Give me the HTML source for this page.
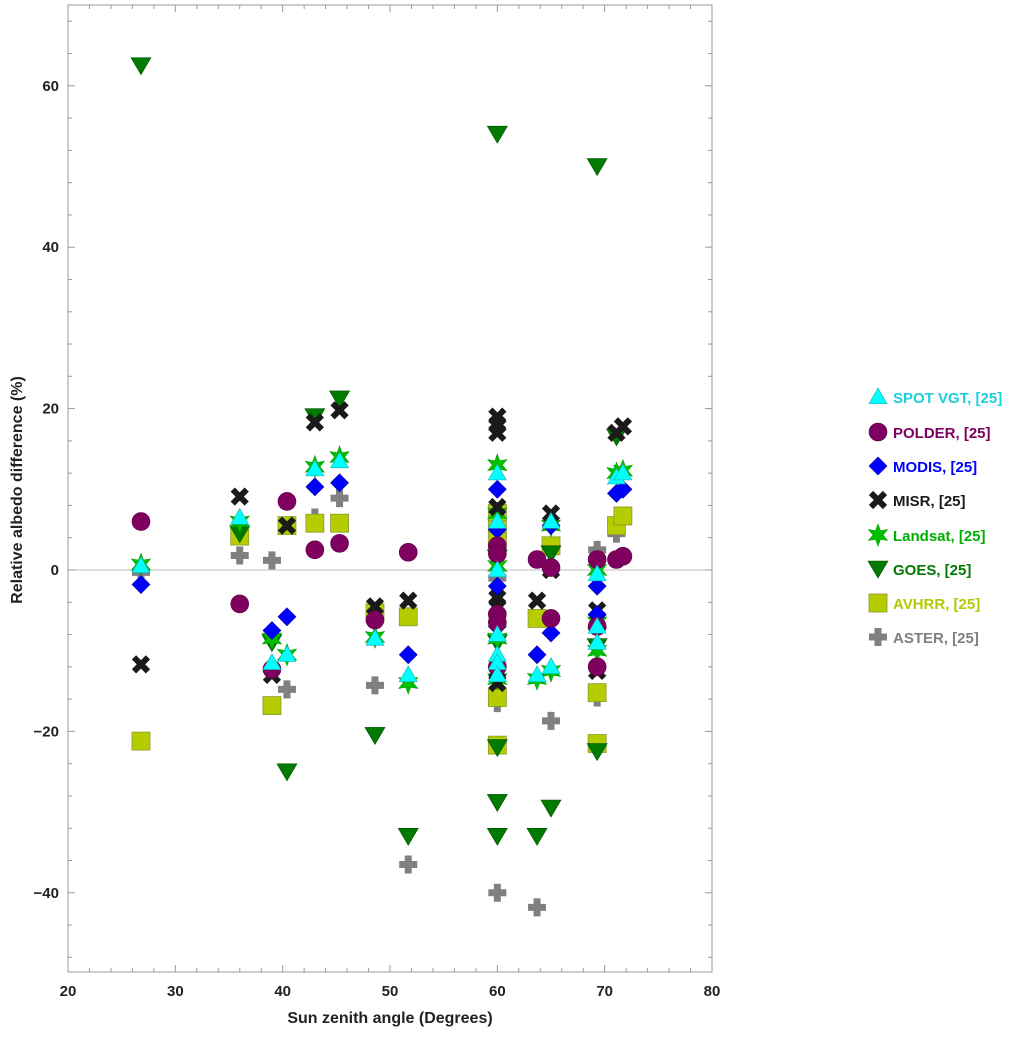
<!DOCTYPE html>
<html><head><meta charset="utf-8"><style>
body{margin:0;background:#fff;font-family:"Liberation Sans",sans-serif}
svg text{font-family:"Liberation Sans",sans-serif;font-weight:bold}
</style></head><body>
<svg id="c" width="1024" height="1032"></svg>
<script>
const xTicks=[20,30,40,50,60,70,80];
const yTicks=[-40,-20,0,20,40,60];
const seriesNames=["SPOT VGT, [25]","POLDER, [25]","MODIS, [25]","MISR, [25]","Landsat, [25]","GOES, [25]","AVHRR, [25]","ASTER, [25]"];
const spot=[[26.8,0.5],[36,6.5],[39,-11.5],[40.4,-10.5],[43,12.5],[45.3,13.5],[48.6,-8.5],[51.7,-13],[60,12],[60,6],[60,0],[60,-8],[60,-10.5],[60,-11.5],[60,-13],[63.7,-13],[65,-12],[65,6],[69.3,-0.5],[69.3,-7],[69.3,-9],[71.1,11.5],[71.7,12]];
const polder=[[26.8,6],[36,-4.2],[39,-12.3],[40.4,8.5],[43,2.5],[45.3,3.3],[48.6,-6.2],[51.7,2.2],[60,3],[60,2],[60,-5.5],[60,-6.5],[60,-12],[63.7,1.3],[65,0.3],[65,-6],[69.3,1.3],[69.3,-7],[69.3,-12],[71.1,1.3],[71.7,1.7]];
const modis=[[26.8,-1.8],[39,-7.5],[40.4,-5.8],[43,10.3],[45.3,10.8],[51.7,-10.5],[60,10],[60,5],[60,-2],[60,-7],[60,-12],[63.7,-10.5],[65,5.5],[65,-7.8],[69.3,-2],[69.3,-5.5],[71.1,9.5],[71.7,10]];
const misr=[[26.8,-11.7],[36,9.1],[39,-13],[40.4,5.5],[43,18.3],[45.3,19.8],[48.6,-4.5],[51.7,-3.8],[60,19],[60,18],[60,17],[60,7.8],[60,-3.5],[60,-4.5],[60,-12.5],[60,-14],[63.7,-3.8],[65,7],[65,0],[69.3,-5],[69.3,-12.5],[71.1,17],[71.7,17.8]];
const landsat=[[26.8,0.7],[36,6],[39,-8.5],[40.4,-10.5],[43,12.8],[45.3,14],[48.6,-8.3],[51.7,-14],[60,13],[60,7],[60,0.5],[60,-8.5],[60,-13.5],[63.7,-13.5],[65,-12.5],[65,5.5],[69.3,0],[69.3,-6.5],[69.3,-10],[71.1,12],[71.7,12.3]];
const goes=[[26.8,62.5],[36,4.5],[39,-9],[40.4,-25],[43,19],[45.3,21.2],[48.6,-20.5],[51.7,-33],[60,54],[60,-22],[60,-28.8],[60,-33],[60,-9],[60,1.5],[63.7,-33],[65,-29.5],[65,2],[69.3,50],[69.3,-22.5],[69.3,-9.5],[71.1,16.5]];
const avhrr=[[26.8,-21.2],[36,4.2],[39,-16.8],[40.4,5.5],[43,5.8],[45.3,5.8],[48.6,-5.3],[51.7,-5.8],[60,7],[60,5],[60,3.5],[60,-15.8],[60,-21.7],[63.7,-6],[65,3],[69.3,-15.2],[69.3,-21.5],[71.1,5.5],[71.7,6.7]];
const aster=[[26.8,-0.3],[36,1.8],[39,1.2],[40.4,-14.8],[43,6.5],[45.3,8.9],[48.6,-14.3],[51.7,-36.5],[60,-40],[60,-16.5],[60,-1],[63.7,-41.8],[65,-18.7],[65,2.8],[69.3,2.5],[69.3,-15.8],[71.1,4.5]];

const L=68,R=712,T=5,B=972;
const X=v=>L+(v-20)*(R-L)/60;
const Y=v=>570-v*8.07;
const NS="http://www.w3.org/2000/svg";
const svg=document.getElementById('c');
function mk(tag,attrs,parent){const e=document.createElementNS(NS,tag);for(const k in attrs)e.setAttribute(k,attrs[k]);(parent||svg).appendChild(e);return e;}
const frame=mk('rect',{x:L,y:T,width:R-L,height:B-T,fill:'none',stroke:'#999','stroke-width':1});


const zl=mk('line',{x1:L,x2:R,y1:Y(0),y2:Y(0),stroke:'#bbb'});


for(let v=20;v<=80;v+=2){const maj=v%10===0;const len=maj?7:4;
 mk('line',{x1:X(v),x2:X(v),y1:B,y2:B-len,stroke:'#999'});
 mk('line',{x1:X(v),x2:X(v),y1:T,y2:T+len,stroke:'#999'});}
for(let v=-48;v<=68;v+=4){const maj=v%20===0;const len=maj?7:4;
 mk('line',{x1:L,x2:L+len,y1:Y(v),y2:Y(v),stroke:'#999'});
 mk('line',{x1:R,x2:R-len,y1:Y(v),y2:Y(v),stroke:'#999'});}
xTicks.forEach(v=>{const t=mk('text',{x:X(v),y:B+24,'text-anchor':'middle','font-size':15,fill:'#222'});t.textContent=v;
 
 });
yTicks.forEach(v=>{const t=mk('text',{x:L-9,y:Y(v)+5,'text-anchor':'end','font-size':15,fill:'#222'});t.textContent=v<0?'\u2212'+(-v):v;
 
 });
const xt=mk('text',{x:390,y:1023,'text-anchor':'middle','font-size':16,fill:'#222'});xt.textContent='Sun zenith angle (Degrees)';


const yt=mk('text',{x:0,y:0,'text-anchor':'middle','font-size':16,fill:'#222',transform:'translate(22,490) rotate(-90)'});yt.textContent='Relative albedo difference (%)';



function marker(kind,cx,cy,g){const s=9;let e;
 if(kind==='tri')e=mk('polygon',{points:`${cx},${cy-s} ${cx-s},${cy+s*0.75} ${cx+s},${cy+s*0.75}`,fill:'#00ffff',stroke:'#2aa','stroke-width':0.6},g);
 else if(kind==='circ')e=mk('circle',{cx,cy,r:9,fill:'#800060',stroke:'#600048','stroke-width':0.6},g);
 else if(kind==='dia')e=mk('polygon',{points:`${cx},${cy-9} ${cx+9},${cy} ${cx},${cy+9} ${cx-9},${cy}`,fill:'#0000ff',stroke:'#0000aa','stroke-width':0.6},g);
 else if(kind==='x'){e=mk('path',{d:`M${cx-7},${cy-7}L${cx+7},${cy+7}M${cx+7},${cy-7}L${cx-7},${cy+7}`,stroke:'#1a1a1a','stroke-width':6},g);}
 else if(kind==='star'){let p=[];for(let i=0;i<12;i++){const a=-Math.PI/2+i*Math.PI/6;const r=i%2?5:11;p.push((cx+r*Math.cos(a)).toFixed(1)+','+(cy+r*Math.sin(a)).toFixed(1));}
  e=mk('polygon',{points:p.join(' '),fill:'#00c000',stroke:'#00a000','stroke-width':0.6},g);}
 else if(kind==='down')e=mk('polygon',{points:`${cx-10},${cy-8} ${cx+10},${cy-8} ${cx},${cy+9}`,fill:'#007a00',stroke:'#005000','stroke-width':0.6},g);
 else if(kind==='sq')e=mk('rect',{x:cx-9,y:cy-9,width:18,height:18,fill:'#b4cc00',stroke:'#8a9a30','stroke-width':0.8},g);
 else if(kind==='plus')e=mk('path',{d:`M${cx-9},${cy}H${cx+9}M${cx},${cy-9}V${cy+9}`,stroke:'#808080','stroke-width':7},g);
 return e;}
const defs=[[aster,'plus','aster'],[avhrr,'sq','avhrr'],[goes,'down','goes'],[landsat,'star','landsat'],[misr,'x','misr'],[modis,'dia','modis'],[polder,'circ','polder'],[spot,'tri','spot-vgt']];
defs.forEach(([data,kind,name])=>{const g=mk('g',{});
 
 
 data.forEach(([x,y])=>{const m=marker(kind,X(x),Y(y),g);
  
  });});
const kinds=['tri','circ','dia','x','star','down','sq','plus'];
const tcols=['#1ccfdc','#800060','#0000ff','#1a1a1a','#00b000','#007a00','#b4c800','#808080'];
const ly=[397,432,466,500,535,569,603,637];
seriesNames.forEach((n,i)=>{const g=mk('g',{});
 
 
 marker(kinds[i],878,ly[i],g);
 const t=mk('text',{x:893,y:ly[i]+6,'font-size':15,fill:tcols[i]},g);t.textContent=n;});
</script>
</body></html>
